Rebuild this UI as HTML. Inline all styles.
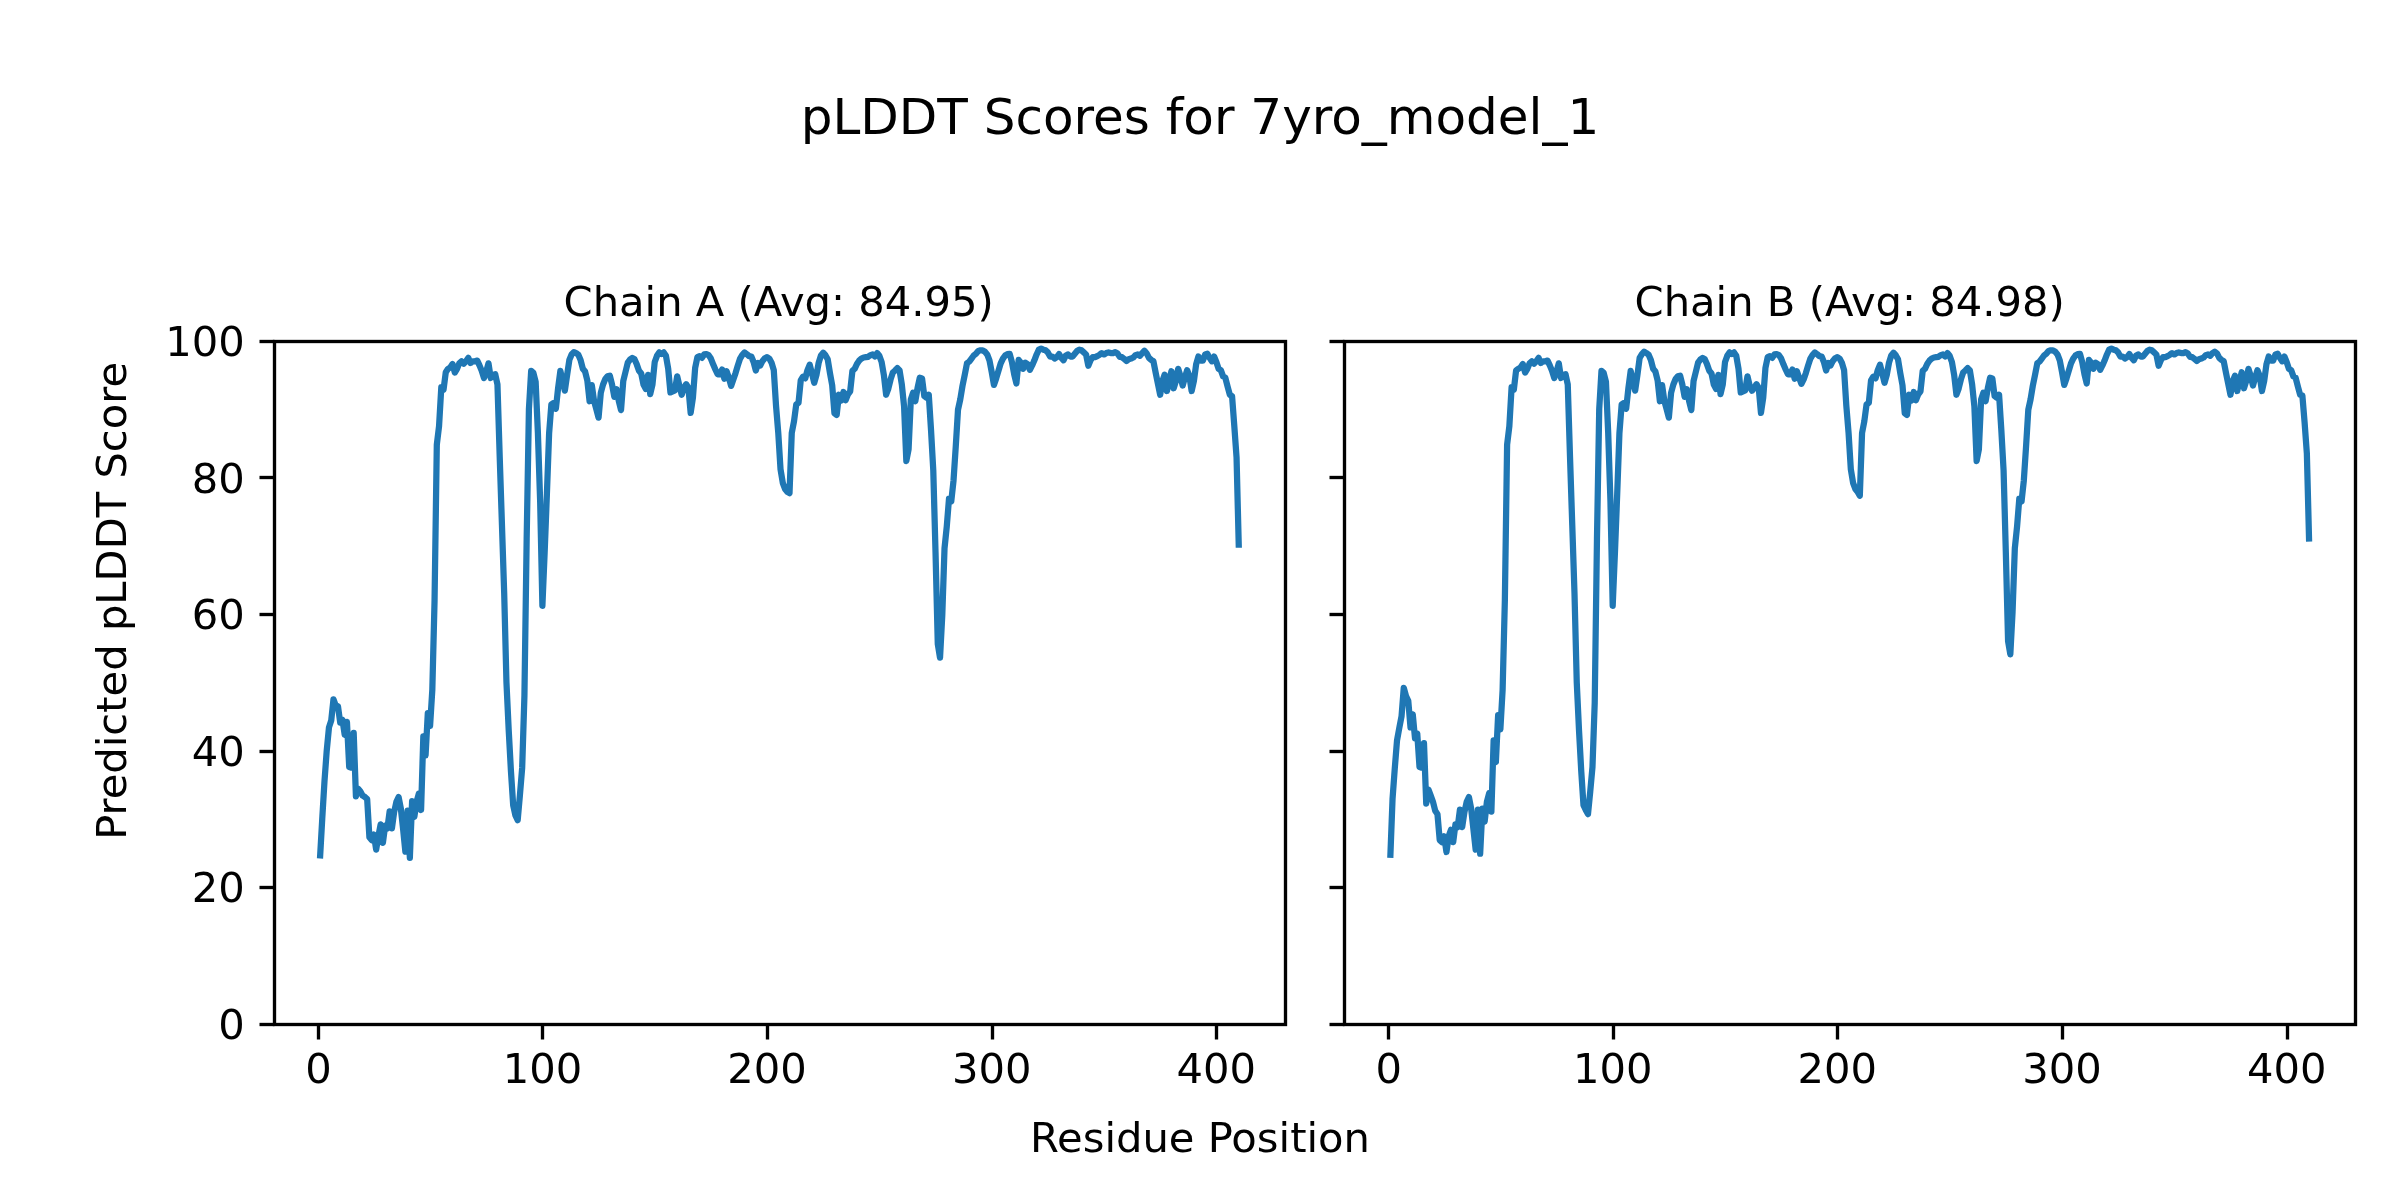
<!DOCTYPE html>
<html lang="en">
<head>
<meta charset="utf-8">
<title>pLDDT Scores for 7yro_model_1</title>
<style>html,body{margin:0;padding:0;background:#fff;}body{width:2400px;height:1200px;overflow:hidden;}</style>
</head>
<body>
<svg width="2400" height="1200" viewBox="0 0 2400 1200" style="display:block;font-family:'DejaVu Sans', 'Liberation Sans', sans-serif;fill:#000;will-change:transform;opacity:0.9999">
<rect width="2400" height="1200" fill="#fff"/>
<polyline points="319.99,858.51 322.24,818.90 324.48,781.34 326.73,750.60 328.98,727.38 331.22,720.55 333.47,699.38 335.72,705.52 337.96,706.20 340.21,722.60 342.46,719.87 344.70,734.89 346.95,721.91 349.20,766.99 351.44,767.67 353.69,732.84 355.93,796.36 358.18,788.85 360.43,791.58 362.67,795.68 364.92,797.04 367.17,799.09 369.41,837.34 371.66,840.07 373.91,834.61 376.15,849.63 378.40,835.97 380.65,824.36 382.89,842.80 385.14,825.73 387.39,828.46 389.63,811.39 391.88,828.46 394.13,812.07 396.37,801.82 398.62,797.04 400.86,808.65 403.11,829.14 405.36,851.68 407.60,810.70 409.85,857.83 412.10,801.14 414.34,816.85 416.59,801.82 418.84,793.63 421.08,810.02 423.33,736.26 425.58,755.38 427.82,713.03 430.07,726.01 432.32,689.81 434.56,600.34 436.81,444.62 439.06,426.17 441.30,387.24 443.55,389.63 445.79,372.22 448.04,368.80 450.29,367.44 452.53,364.02 454.78,372.56 457.03,368.80 459.27,363.34 461.52,361.29 463.77,363.68 466.01,361.29 468.26,357.88 470.51,363.00 472.75,361.29 475.00,361.29 477.25,360.61 479.49,365.39 481.74,370.85 483.99,378.02 486.23,371.53 488.48,363.34 490.72,378.02 492.97,374.95 495.22,374.27 497.46,384.51 499.71,456.91 501.96,525.21 504.20,593.51 506.45,682.30 508.70,730.11 510.94,771.09 513.19,805.24 515.44,815.48 517.68,820.27 519.93,794.99 522.18,767.67 524.42,695.96 526.67,538.87 528.92,409.10 531.16,370.85 533.41,372.90 535.65,381.78 537.90,433.00 540.15,501.30 542.39,605.80 544.64,552.53 546.89,494.47 549.13,433.00 551.38,404.32 553.63,402.95 555.87,408.76 558.12,387.93 560.37,370.85 562.61,381.10 564.86,390.66 567.11,374.95 569.35,359.92 571.60,354.46 573.85,352.07 576.09,353.09 578.34,354.80 580.58,359.92 582.83,368.80 585.08,371.53 587.32,380.41 589.57,401.25 591.82,385.19 594.06,400.90 596.31,409.10 598.56,417.64 600.80,392.71 603.05,384.51 605.30,379.05 607.54,376.32 609.79,375.63 612.04,384.51 614.28,396.81 616.53,389.29 618.78,400.90 621.02,410.12 623.27,381.10 625.51,371.88 627.76,362.66 630.01,359.58 632.25,357.88 634.50,359.24 636.75,364.36 638.99,370.85 641.24,373.58 643.49,384.51 645.73,388.95 647.98,374.95 650.23,394.07 652.47,384.51 654.72,361.97 656.97,355.83 659.21,352.41 661.46,354.12 663.71,352.41 665.95,355.83 668.20,368.80 670.44,392.37 672.69,391.34 674.94,390.32 677.18,376.32 679.43,385.88 681.68,394.76 683.92,387.93 686.17,384.17 688.42,387.93 690.66,412.86 692.91,397.83 695.16,367.78 697.40,357.19 699.65,356.17 701.90,357.88 704.14,354.46 706.39,354.12 708.64,355.14 710.88,358.56 713.13,364.36 715.37,369.49 717.62,374.27 719.87,374.27 722.11,369.49 724.36,378.71 726.61,371.19 728.85,377.68 731.10,385.88 733.35,379.39 735.59,372.90 737.84,365.39 740.09,358.56 742.33,354.80 744.58,352.41 746.83,354.12 749.07,356.17 751.32,356.51 753.57,361.97 755.81,370.51 758.06,363.00 760.30,365.39 762.55,360.95 764.80,358.22 767.04,357.19 769.29,358.56 771.54,362.66 773.78,370.17 776.03,405.68 778.28,433.00 780.52,469.20 782.77,482.86 785.02,489.01 787.26,491.74 789.51,493.11 791.76,433.00 794.00,421.39 796.25,404.32 798.50,402.95 800.74,380.41 802.99,376.66 805.23,378.37 807.48,370.17 809.73,364.70 811.97,373.58 814.22,382.80 816.47,374.95 818.71,362.66 820.96,355.48 823.21,352.75 825.45,355.14 827.70,359.24 829.95,372.90 832.19,385.19 834.44,413.20 836.69,414.91 838.93,394.76 841.18,400.56 843.43,392.02 845.67,400.22 847.92,394.42 850.16,391.34 852.41,370.85 854.66,368.80 856.90,364.02 859.15,360.61 861.40,358.56 863.64,357.53 865.89,357.19 868.14,356.85 870.38,355.14 872.63,354.46 874.88,356.51 877.12,353.09 879.37,355.83 881.62,361.97 883.86,374.95 886.11,394.76 888.36,388.61 890.60,379.39 892.85,372.56 895.09,370.51 897.34,368.12 899.59,370.51 901.83,384.51 904.08,406.37 906.33,461.01 908.57,449.40 910.82,399.54 913.07,392.71 915.31,401.25 917.56,387.93 919.81,377.68 922.05,378.37 924.30,396.12 926.55,397.83 928.79,394.76 931.04,430.27 933.29,470.57 935.53,552.53 937.78,644.05 940.02,657.71 942.27,615.37 944.52,548.43 946.76,526.58 949.01,498.57 951.26,501.30 953.50,480.81 955.75,446.66 958.00,409.78 960.24,399.54 962.49,385.88 964.74,374.95 966.98,363.34 969.23,361.63 971.48,358.56 973.72,355.48 975.97,353.78 978.22,351.04 980.46,350.36 982.71,350.36 984.95,351.73 987.20,354.46 989.45,360.27 991.69,371.88 993.94,384.85 996.19,378.37 998.43,370.85 1000.68,363.34 1002.93,358.56 1005.17,355.48 1007.42,354.12 1009.67,353.78 1011.91,361.97 1014.16,374.27 1016.41,383.49 1018.65,359.92 1020.90,362.66 1023.15,368.80 1025.39,362.66 1027.64,364.36 1029.88,369.83 1032.13,365.39 1034.38,360.27 1036.62,354.46 1038.87,349.68 1041.12,348.65 1043.36,349.68 1045.61,350.36 1047.86,352.41 1050.10,356.51 1052.35,356.51 1054.60,358.56 1056.84,357.19 1059.09,354.12 1061.34,357.88 1063.58,360.27 1065.83,355.48 1068.08,354.46 1070.32,356.51 1072.57,356.51 1074.81,353.78 1077.06,351.04 1079.31,349.68 1081.55,350.36 1083.80,352.41 1086.05,354.46 1088.29,365.73 1090.54,360.27 1092.79,357.19 1095.03,357.19 1097.28,356.17 1099.53,354.80 1101.77,353.09 1104.02,354.46 1106.27,353.09 1108.51,352.41 1110.76,353.09 1113.01,353.09 1115.25,352.07 1117.50,353.44 1119.74,356.85 1121.99,357.19 1124.24,358.90 1126.48,360.95 1128.73,359.24 1130.98,358.56 1133.22,357.53 1135.47,355.14 1137.72,354.46 1139.96,355.83 1142.21,353.09 1144.46,350.70 1146.70,353.44 1148.95,357.88 1151.20,359.92 1153.44,361.29 1155.69,372.90 1157.94,383.83 1160.18,394.76 1162.43,381.10 1164.67,374.61 1166.92,391.00 1169.17,381.10 1171.41,371.19 1173.66,388.27 1175.91,381.10 1178.15,368.80 1180.40,375.97 1182.65,385.54 1184.89,377.68 1187.14,370.17 1189.39,375.97 1191.63,391.00 1193.88,381.10 1196.13,364.36 1198.37,356.51 1200.62,360.61 1202.87,360.61 1205.11,354.46 1207.36,353.78 1209.60,357.88 1211.85,361.29 1214.10,356.51 1216.34,361.97 1218.59,368.80 1220.84,370.17 1223.08,376.32 1225.33,377.68 1227.58,386.56 1229.82,394.76 1232.07,396.12 1234.32,426.17 1236.56,457.59 1238.81,547.75" fill="none" stroke="#1f77b4" stroke-width="6.25" stroke-linejoin="round" stroke-linecap="butt"/>
<rect x="316.834" y="1024.50" width="3.333" height="15.00" fill="#000"/>
<text x="318.54" y="1082.60" text-anchor="middle" font-size="41.667">0</text>
<rect x="540.833" y="1024.50" width="3.333" height="15.00" fill="#000"/>
<text x="542.39" y="1082.60" text-anchor="middle" font-size="41.667">100</text>
<rect x="765.833" y="1024.50" width="3.333" height="15.00" fill="#000"/>
<text x="767.04" y="1082.60" text-anchor="middle" font-size="41.667">200</text>
<rect x="990.833" y="1024.50" width="3.333" height="15.00" fill="#000"/>
<text x="991.69" y="1082.60" text-anchor="middle" font-size="41.667">300</text>
<rect x="1214.833" y="1024.50" width="3.333" height="15.00" fill="#000"/>
<text x="1216.34" y="1082.60" text-anchor="middle" font-size="41.667">400</text>
<rect x="259.50" y="1022.833" width="15.00" height="3.333" fill="#000"/>
<text x="244.88" y="1038.93" text-anchor="end" font-size="41.667">0</text>
<rect x="259.50" y="885.833" width="15.00" height="3.333" fill="#000"/>
<text x="244.88" y="902.33" text-anchor="end" font-size="41.667">20</text>
<rect x="259.50" y="749.833" width="15.00" height="3.333" fill="#000"/>
<text x="244.88" y="765.73" text-anchor="end" font-size="41.667">40</text>
<rect x="259.50" y="612.833" width="15.00" height="3.333" fill="#000"/>
<text x="244.88" y="629.13" text-anchor="end" font-size="41.667">60</text>
<rect x="259.50" y="475.834" width="15.00" height="3.333" fill="#000"/>
<text x="244.88" y="492.53" text-anchor="end" font-size="41.667">80</text>
<rect x="259.50" y="339.834" width="15.00" height="3.333" fill="#000"/>
<text x="244.88" y="355.93" text-anchor="end" font-size="41.667">100</text>
<rect x="274.500" y="341.500" width="1011.000" height="683.000" fill="none" stroke="#000" stroke-width="3.333"/>
<text x="778.70" y="315.80" text-anchor="middle" font-size="41.667">Chain A (Avg: 84.95)</text>
<polyline points="1390.29,857.83 1392.54,799.09 1394.78,768.36 1397.03,740.36 1399.28,728.06 1401.52,716.45 1403.77,687.76 1406.02,695.96 1408.26,700.74 1410.51,727.38 1412.76,714.40 1415.00,738.31 1417.25,733.52 1419.50,766.99 1421.74,767.67 1423.99,743.09 1426.23,803.53 1428.48,789.53 1430.73,795.68 1432.97,801.82 1435.22,810.70 1437.47,814.12 1439.71,840.07 1441.96,842.12 1444.21,836.32 1446.45,852.03 1448.70,835.97 1450.95,829.83 1453.19,842.12 1455.44,824.36 1457.69,827.10 1459.93,809.68 1462.18,827.10 1464.43,812.07 1466.67,801.82 1468.92,797.04 1471.16,808.65 1473.41,829.14 1475.66,849.63 1477.90,809.68 1480.15,853.73 1482.40,808.65 1484.64,821.63 1486.89,801.82 1489.14,793.29 1491.38,811.73 1493.63,740.36 1495.88,762.21 1498.12,715.08 1500.37,729.43 1502.62,689.81 1504.86,600.34 1507.11,444.62 1509.36,426.17 1511.60,387.24 1513.85,389.63 1516.09,370.51 1518.34,368.80 1520.59,367.44 1522.83,364.02 1525.08,372.56 1527.33,368.80 1529.57,363.34 1531.82,361.29 1534.07,363.68 1536.31,361.29 1538.56,357.88 1540.81,363.00 1543.05,361.29 1545.30,361.29 1547.55,360.61 1549.79,365.39 1552.04,370.85 1554.29,378.02 1556.53,371.53 1558.78,363.34 1561.02,378.02 1563.27,374.95 1565.52,374.27 1567.76,384.51 1570.01,456.91 1572.26,525.21 1574.50,593.51 1576.75,682.30 1579.00,730.11 1581.24,771.09 1583.49,805.24 1585.74,810.02 1587.98,814.12 1590.23,791.58 1592.48,766.99 1594.72,702.79 1596.97,538.87 1599.22,409.10 1601.46,370.85 1603.71,372.90 1605.95,381.78 1608.20,433.00 1610.45,501.30 1612.69,605.80 1614.94,552.53 1617.19,494.47 1619.43,433.00 1621.68,404.32 1623.93,402.95 1626.17,408.76 1628.42,387.93 1630.67,370.85 1632.91,381.10 1635.16,390.66 1637.41,374.95 1639.65,357.88 1641.90,354.12 1644.15,351.73 1646.39,353.09 1648.64,354.80 1650.88,359.92 1653.13,368.80 1655.38,371.53 1657.62,380.41 1659.87,401.25 1662.12,385.19 1664.36,400.90 1666.61,409.10 1668.86,417.64 1671.10,392.71 1673.35,384.51 1675.60,379.05 1677.84,376.32 1680.09,375.63 1682.34,384.51 1684.58,396.81 1686.83,389.29 1689.08,400.90 1691.32,410.12 1693.57,381.10 1695.81,371.88 1698.06,362.66 1700.31,359.58 1702.55,357.88 1704.80,359.24 1707.05,364.36 1709.29,370.85 1711.54,373.58 1713.79,384.51 1716.03,388.95 1718.28,374.95 1720.53,394.07 1722.77,384.51 1725.02,361.97 1727.27,355.83 1729.51,352.41 1731.76,354.12 1734.01,352.41 1736.25,355.83 1738.50,368.80 1740.74,392.37 1742.99,391.34 1745.24,390.32 1747.48,376.32 1749.73,385.88 1751.98,390.66 1754.22,387.93 1756.47,384.17 1758.72,387.93 1760.96,412.86 1763.21,397.83 1765.46,367.78 1767.70,357.19 1769.95,356.17 1772.20,357.88 1774.44,354.46 1776.69,354.12 1778.94,355.14 1781.18,358.56 1783.43,364.36 1785.67,369.49 1787.92,374.27 1790.17,374.27 1792.41,369.49 1794.66,378.71 1796.91,371.19 1799.15,377.68 1801.40,383.83 1803.65,379.39 1805.89,372.90 1808.14,365.39 1810.39,358.56 1812.63,354.80 1814.88,352.41 1817.13,354.12 1819.37,356.17 1821.62,356.51 1823.87,361.97 1826.11,370.51 1828.36,363.00 1830.60,365.39 1832.85,360.95 1835.10,358.22 1837.34,357.19 1839.59,358.56 1841.84,362.66 1844.08,370.17 1846.33,405.68 1848.58,433.00 1850.82,469.20 1853.07,482.86 1855.32,489.01 1857.56,491.74 1859.81,495.84 1862.06,433.00 1864.30,421.39 1866.55,404.32 1868.80,402.95 1871.04,380.41 1873.29,376.66 1875.53,378.37 1877.78,370.17 1880.03,364.70 1882.27,373.58 1884.52,382.80 1886.77,374.95 1889.01,362.66 1891.26,355.48 1893.51,352.75 1895.75,355.14 1898.00,359.24 1900.25,372.90 1902.49,385.19 1904.74,413.20 1906.99,414.91 1909.23,394.76 1911.48,400.56 1913.73,392.02 1915.97,400.22 1918.22,394.42 1920.46,391.34 1922.71,370.85 1924.96,368.80 1927.20,364.02 1929.45,360.61 1931.70,358.56 1933.94,357.53 1936.19,357.19 1938.44,356.85 1940.68,355.14 1942.93,354.46 1945.18,356.51 1947.42,353.09 1949.67,355.83 1951.92,361.97 1954.16,374.95 1956.41,394.76 1958.66,388.61 1960.90,379.39 1963.15,372.56 1965.39,370.51 1967.64,368.12 1969.89,370.51 1972.13,384.51 1974.38,406.37 1976.63,461.01 1978.87,449.40 1981.12,399.54 1983.37,392.71 1985.61,401.25 1987.86,387.93 1990.11,377.68 1992.35,378.37 1994.60,396.12 1996.85,397.83 1999.09,394.76 2001.34,430.27 2003.59,470.57 2005.83,552.53 2008.08,641.32 2010.32,654.30 2012.57,611.95 2014.82,548.43 2017.06,526.58 2019.31,498.57 2021.56,501.30 2023.80,480.81 2026.05,446.66 2028.30,409.78 2030.54,399.54 2032.79,385.88 2035.04,374.95 2037.28,363.34 2039.53,361.63 2041.78,358.56 2044.02,355.48 2046.27,353.78 2048.52,351.04 2050.76,350.36 2053.01,350.36 2055.25,351.73 2057.50,354.46 2059.75,360.27 2061.99,371.88 2064.24,384.85 2066.49,378.37 2068.73,370.85 2070.98,363.34 2073.23,358.56 2075.47,355.48 2077.72,354.12 2079.97,353.78 2082.21,361.97 2084.46,374.27 2086.71,383.49 2088.95,359.92 2091.20,362.66 2093.45,368.80 2095.69,362.66 2097.94,364.36 2100.18,369.83 2102.43,365.39 2104.68,360.27 2106.92,354.46 2109.17,349.68 2111.42,348.65 2113.66,349.68 2115.91,350.36 2118.16,352.41 2120.40,356.51 2122.65,356.51 2124.90,358.56 2127.14,357.19 2129.39,354.12 2131.64,357.88 2133.88,360.27 2136.13,355.48 2138.38,354.46 2140.62,356.51 2142.87,356.51 2145.11,353.78 2147.36,351.04 2149.61,349.68 2151.85,350.36 2154.10,352.41 2156.35,354.46 2158.59,365.73 2160.84,360.27 2163.09,357.19 2165.33,357.19 2167.58,356.17 2169.83,354.80 2172.07,353.09 2174.32,354.46 2176.57,353.09 2178.81,352.41 2181.06,353.09 2183.31,353.09 2185.55,352.07 2187.80,353.44 2190.04,356.85 2192.29,357.19 2194.54,358.90 2196.78,360.95 2199.03,359.24 2201.28,358.56 2203.52,357.53 2205.77,355.14 2208.02,354.46 2210.26,355.83 2212.51,353.09 2214.76,351.73 2217.00,353.44 2219.25,357.88 2221.50,359.92 2223.74,361.29 2225.99,372.90 2228.24,383.83 2230.48,394.76 2232.73,381.10 2234.97,375.63 2237.22,391.00 2239.47,381.10 2241.71,372.22 2243.96,388.27 2246.21,381.10 2248.45,368.80 2250.70,375.97 2252.95,385.54 2255.19,377.68 2257.44,370.17 2259.69,375.97 2261.93,391.00 2264.18,381.10 2266.43,364.36 2268.67,356.51 2270.92,360.61 2273.17,360.61 2275.41,354.46 2277.66,353.78 2279.90,357.88 2282.15,361.29 2284.40,356.51 2286.64,361.97 2288.89,368.80 2291.14,370.17 2293.38,376.32 2295.63,377.68 2297.88,386.56 2300.12,394.76 2302.37,395.44 2304.62,422.76 2306.86,453.50 2309.11,541.60" fill="none" stroke="#1f77b4" stroke-width="6.25" stroke-linejoin="round" stroke-linecap="butt"/>
<rect x="1386.833" y="1024.50" width="3.333" height="15.00" fill="#000"/>
<text x="1388.84" y="1082.60" text-anchor="middle" font-size="41.667">0</text>
<rect x="1611.833" y="1024.50" width="3.333" height="15.00" fill="#000"/>
<text x="1612.69" y="1082.60" text-anchor="middle" font-size="41.667">100</text>
<rect x="1835.833" y="1024.50" width="3.333" height="15.00" fill="#000"/>
<text x="1837.34" y="1082.60" text-anchor="middle" font-size="41.667">200</text>
<rect x="2060.834" y="1024.50" width="3.333" height="15.00" fill="#000"/>
<text x="2061.99" y="1082.60" text-anchor="middle" font-size="41.667">300</text>
<rect x="2285.834" y="1024.50" width="3.333" height="15.00" fill="#000"/>
<text x="2286.64" y="1082.60" text-anchor="middle" font-size="41.667">400</text>
<rect x="1329.50" y="1022.833" width="15.00" height="3.333" fill="#000"/>
<rect x="1329.50" y="885.833" width="15.00" height="3.333" fill="#000"/>
<rect x="1329.50" y="749.833" width="15.00" height="3.333" fill="#000"/>
<rect x="1329.50" y="612.833" width="15.00" height="3.333" fill="#000"/>
<rect x="1329.50" y="475.834" width="15.00" height="3.333" fill="#000"/>
<rect x="1329.50" y="339.834" width="15.00" height="3.333" fill="#000"/>
<rect x="1344.500" y="341.500" width="1011.000" height="683.000" fill="none" stroke="#000" stroke-width="3.333"/>
<text x="1849.70" y="315.80" text-anchor="middle" font-size="41.667">Chain B (Avg: 84.98)</text>
<text x="1200.00" y="134.30" text-anchor="middle" font-size="50">pLDDT Scores for 7yro_model_1</text>
<text x="1200.00" y="1151.90" text-anchor="middle" font-size="41.667">Residue Position</text>
<text transform="translate(126.00 600.90) rotate(-90)" text-anchor="middle" font-size="41.667">Predicted pLDDT Score</text>
</svg>
</body>
</html>
